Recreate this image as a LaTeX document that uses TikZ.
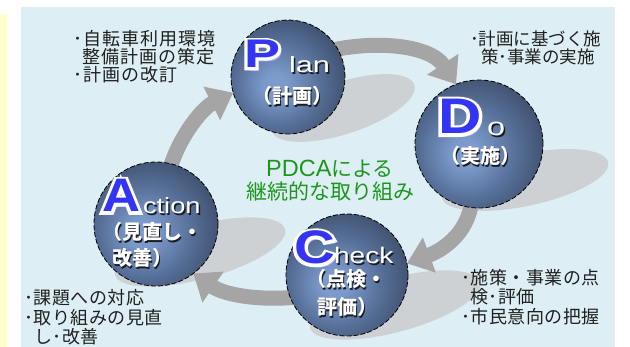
\documentclass[tikz,border=0pt]{standalone}
\usepackage{fontspec}
\usepackage{graphicx}
\setmainfont{Liberation Sans}
\newfontfamily\jp{Noto Sans CJK JP}
\newfontfamily\lat{Liberation Sans}
\usetikzlibrary{arrows.meta,calc}
\definecolor{panelc}{HTML}{DDEFF4}
\definecolor{stripc}{HTML}{FFFFCC}
\definecolor{shadowc}{HTML}{CED1D3}
\definecolor{arrowc}{HTML}{A5A5A5}
\definecolor{letblue}{HTML}{3434F4}
\definecolor{letshadow}{HTML}{A6A6F0}
\definecolor{greenc}{HTML}{1E961E}
\definecolor{textc}{HTML}{202020}
\definecolor{wshadow}{HTML}{1A1A22}
\definecolor{ballA}{HTML}{7C9BCC}
\definecolor{ballB}{HTML}{58719A}
\definecolor{ballC}{HTML}{3A4A65}
\definecolor{ballD}{HTML}{242C3B}
\pgfdeclareradialshading{pdcaball}{\pgfpoint{-6bp}{-4bp}}{color(0bp)=(ballA); color(5bp)=(ballA); color(18bp)=(ballB); color(32bp)=(ballC); color(46bp)=(ballD); color(64bp)=(ballD)}
\pgfdeclarelayer{bg}
\pgfdeclarelayer{back}
\pgfsetlayers{bg,back,main}
\newcommand\notefont[2]{\jp\fontsize{#1}{#1}\selectfont\addfontfeatures{LetterSpace=#2}}
\newcommand\bigletter[5]{%
  \node[bigl, text=letshadow] (#1s) at ($(#2)+(3.5,3.5)$) {\bfseries\fontsize{#4}{#4}\selectfont\scalebox{#5}[1]{#3}};
  \node[bigl, text=white] (#1o) at (#2) {\bfseries\fontsize{#4}{#4}\selectfont\addfontfeatures{FakeBold=12}\scalebox{#5}[1]{#3}};
  \node[bigl, text=letblue] (#1) at (#2) {\bfseries\fontsize{#4}{#4}\selectfont\scalebox{#5}[1]{#3}};}
\newcommand\wtext[4]{%
  \node[wlab, anchor=#3, text=wshadow] (#1s) at ($(#2)+(1.5,1.5)$) {#4};
  \node[wlab, anchor=#3, text=white] (#1) at (#2) {#4};}
\begin{document}
\begin{tikzpicture}[x=1pt,y=-1pt,
  ball/.style={circle, draw=black, dash pattern=on 5pt off 2pt, line width=0.8pt, shading=pdcaball, inner sep=0pt, outer sep=0pt},
  bigl/.style={anchor=base west, inner sep=0pt, outer sep=0pt},
  wlab/.style={inner sep=0pt, outer sep=0pt},
  note/.style={anchor=base west, inner sep=0pt, text=textc},
  green/.style={anchor=base, inner sep=0pt, text=greenc, font=\jp\fontsize{21}{21}\selectfont},
  parrow/.style={draw=arrowc, line width=15pt, -{Triangle[length=24pt,width=36pt]}},
  shadowell/.style={fill=shadowc}]
\useasboundingbox (0,0) rectangle (630,347);
\begin{pgfonlayer}{bg}
  \fill[stripc] (0,14) rectangle (7,347);
  \fill[panelc] (21,7) rectangle (615,347);
  \fill[shadowell, rotate around={18:(343,108)}] (343,108) ellipse [x radius=75pt, y radius=26pt];
  \fill[shadowell, rotate around={12:(525,180)}] (525,180) ellipse [x radius=85pt, y radius=26pt];
  \fill[shadowell, rotate around={15:(395,305)}] (395,305) ellipse [x radius=88pt, y radius=27pt];
  \fill[shadowell, rotate around={15:(200,252)}] (200,252) ellipse [x radius=88pt, y radius=27pt];
\end{pgfonlayer}
% circles
\node[ball, minimum size=114pt] (plan) at (288,77) {};
\node[ball, minimum size=128pt] (do) at (479,144) {};
\node[ball, minimum size=122pt] (check) at (347,275) {};
\node[ball, minimum size=124pt] (action) at (156,224) {};
% arrows
\begin{pgfonlayer}{back}
  \draw[parrow] ($(plan.center)!0.8!(plan.34)$) .. controls +(50,-12) and +(-26,-39) .. (do.111);
  \draw[parrow] ($(do.center)!0.8!(do.262)$) .. controls +(0,35) and +(38,-14) .. (check.11);
  \draw[parrow] ($(check.center)!0.8!(check.206)$) .. controls +(-40,5) and +(32,22) .. (action.307);
  \draw[parrow] ($(action.center)!0.8!(action.76)$) .. controls +(8,-35) and +(-32,16) .. (plan.196);
\end{pgfonlayer}
% circle labels
\bigletter{pP}{244,68}{P}{40}{1.35}
\wtext{planr}{289,73}{base west}{\fontsize{22}{22}\selectfont\scalebox{1.4}[1]{lan}}
\wtext{planj}{292,104}{base}{\jp\bfseries\fontsize{20}{20}\selectfont （計画）}
\bigletter{pD}{438,134}{D}{50}{1.2}
\wtext{dor}{487,136}{base west}{\fontsize{25}{25}\selectfont\scalebox{1.3}[1]{o}}
\wtext{doj}{480,164}{base}{\jp\bfseries\fontsize{20}{20}\selectfont （実施）}
\bigletter{pC}{294,264}{C}{47}{1.2}
\wtext{checkr}{334,264}{base west}{\fontsize{22.5}{22.5}\selectfont\scalebox{1.25}[1]{heck}}
\wtext{checkj1}{306,287}{base west}{\jp\bfseries\fontsize{20}{20}\selectfont （点検・}
\wtext{checkj2}{317,315}{base west}{\jp\bfseries\fontsize{20}{20}\selectfont 評価）}
\bigletter{pA}{102,212}{A}{47}{1.12}
\wtext{actr}{143,214}{base west}{\fontsize{22}{22}\selectfont\scalebox{1.24}[1]{ction}}
\wtext{actj1}{102,240}{base west}{\jp\bfseries\fontsize{20}{20}\selectfont （見直し・}
\wtext{actj2}{112,266}{base west}{\jp\bfseries\fontsize{20}{20}\selectfont 改善）}
% notes
\node[note, font={\notefont{18}{6}}] (tl1) at (73,46) {･自転車利用環境};
\node[note, font={\notefont{18}{6}}] (tl2) at (82,64) {整備計画の策定};
\node[note, font={\notefont{18}{6}}] (tl3) at (73,82) {･計画の改訂};
\node[note, font={\notefont{17.5}{0}}] (tr1) at (470,46) {･計画に基づく施};
\node[note, font={\notefont{17.5}{0}}] (tr2) at (481,64) {策･事業の実施};
\node[note, font={\notefont{18}{3}}] (br1) at (461,285) {･施策・事業の点};
\node[note, font={\notefont{18}{3}}] (br2) at (470,304) {検･評価};
\node[note, font={\notefont{18}{3}}] (br3) at (461,324) {･市民意向の把握};
\node[note, font={\notefont{18}{3}}] (bl1) at (24,305) {･課題への対応};
\node[note, font={\notefont{18}{3}}] (bl2) at (24,325) {･取り組みの見直};
\node[note, font={\notefont{18}{3}}] (bl3) at (34,344) {し･改善};
% center
\node[green] (g1) at (330,177) {{\lat\fontsize{23.5}{23.5}\selectfont PDCA}による};
\node[green] (g2) at (330,200) {継続的な取り組み};
\end{tikzpicture}
\end{document}
